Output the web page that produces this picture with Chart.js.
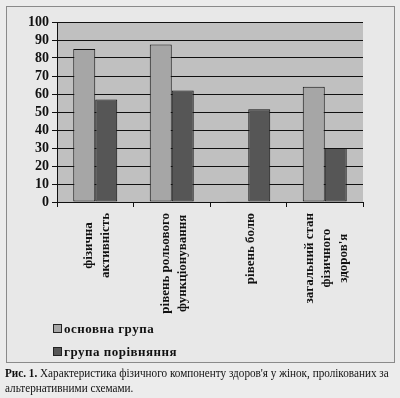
<!DOCTYPE html>
<html>
<head>
<meta charset="utf-8">
<script src="https://cdn.jsdelivr.net/npm/chart.js@4"></script>
<style>
  body { margin: 0; width: 400px; height: 398px; background: #ececec; position: relative; overflow: hidden; font-family: 'Liberation Serif', serif; }
  #frame { position: absolute; left: 6px; top: 6px; width: 387px; height: 355px; border: 1.5px solid #8a8a8a; background: #e8e8e8; }
  #chart { position: absolute; left: 0; top: 0; }
  .leg { position: absolute; left: 53px; font-weight: bold; font-size: 13px; letter-spacing: 0.5px; color: #111; }
  .leg span { display: inline-block; width: 7px; height: 7px; border: 1px solid #222; margin-right: 2px; vertical-align: 0px; }
  #caption { position: absolute; left: 5px; top: 366px; width: 436px; font-size: 12.5px; line-height: 14.5px; color: #111; transform: scaleX(0.895); transform-origin: left top; }
</style>
</head>
<body>
<div id="frame"></div>
<canvas id="chart" width="400" height="398"></canvas>
<div class="leg" id="leg0" style="top:321px"></div>
<div class="leg" id="leg1" style="top:344px"></div>
<div id="caption"><b>Рис. 1.</b> Характеристика фізичного компоненту здоров'я у жінок, пролікованих за альтернативними схемами.</div>
<script>
// Categories (each one split into lines, as in the picture)
const categories = [
    ["фізична", "активність"],
    ["рівень рольового", "функціонування"],
    ["рівень болю"],
    ["загальний стан", "фізичного", "здоров'я"]
];
const seriesNames = ["основна група", "група порівняння"];
const mainGroup = [85, 87.5, 0.4, 64];        // основна група
const compareGroup = [57, 62, 51.5, 30];      // група порівняння
const yTicks = [0, 10, 20, 30, 40, 50, 60, 70, 80, 90, 100];

const colors = ["#a6a6a6", "#565656"];

// HTML legend, stacked like the original
seriesNames.forEach((name, i) => {
    document.getElementById("leg" + i).innerHTML =
        '<span style="background:' + colors[i] + '"></span>' + name;
});

// Grey plot background
const plotBg = {
    id: "plotBg",
    beforeDraw(chart) {
        const a = chart.chartArea, ctx = chart.ctx;
        ctx.save();
        ctx.fillStyle = "#c0c0c0";
        ctx.fillRect(a.left, a.top, a.right - a.left, a.bottom - a.top);
        ctx.restore();
    }
};

// Vertical category labels, lines centered on each other
const catLabels = {
    id: "catLabels",
    afterDraw(chart) {
        const ctx = chart.ctx, xs = chart.scales.x;
        ctx.save();
        ctx.font = "bold 13px 'Liberation Serif'";
        ctx.fillStyle = "#111";
        ctx.textAlign = "center";
        ctx.textBaseline = "middle";
        categories.forEach((lines, i) => {
            const cx = xs.getPixelForValue(i);
            const maxW = Math.max(...lines.map(l => ctx.measureText(l).width));
            const cy = chart.chartArea.bottom + 11 + maxW / 2;
            lines.forEach((line, k) => {
                const lx = cx + (k - (lines.length - 1) / 2) * 17 + 2;
                ctx.save();
                ctx.translate(lx, cy);
                ctx.rotate(-Math.PI / 2);
                ctx.fillText(line, 0, 0);
                ctx.restore();
            });
        });
        ctx.restore();
    }
};

new Chart(document.getElementById("chart"), {
    type: "bar",
    data: {
        labels: categories,
        datasets: [
            { label: seriesNames[0], data: mainGroup, backgroundColor: colors[0] },
            { label: seriesNames[1], data: compareGroup, backgroundColor: colors[1] }
        ].map(d => Object.assign(d, {
            borderColor: "#111",
            borderWidth: 1,
            borderSkipped: false,
            categoryPercentage: 0.575,
            barPercentage: 1
        }))
    },
    options: {
        responsive: false,
        animation: false,
        layout: { padding: { left: 0, top: 22, right: 37, bottom: 0 } },
        plugins: { legend: { display: false }, tooltip: { enabled: false } },
        scales: {
            x: {
                grid: { offset: true, drawOnChartArea: false, color: "#111", tickLength: 5 },
                border: { color: "#111" },
                ticks: { display: false },
                afterFit(s) { s.height = 196; }
            },
            y: {
                min: 0,
                max: 100,
                afterBuildTicks(s) { s.ticks = yTicks.map(v => ({ value: v })); },
                grid: { color: "#111", tickLength: 5 },
                border: { color: "#111" },
                ticks: { color: "#111", padding: 3, autoSkip: false, font: { family: "'Liberation Serif'", weight: "bold", size: 14 } },
                afterFit(s) { s.width = 57; }
            }
        }
    },
    plugins: [plotBg, catLabels]
});
</script>
</body>
</html>
